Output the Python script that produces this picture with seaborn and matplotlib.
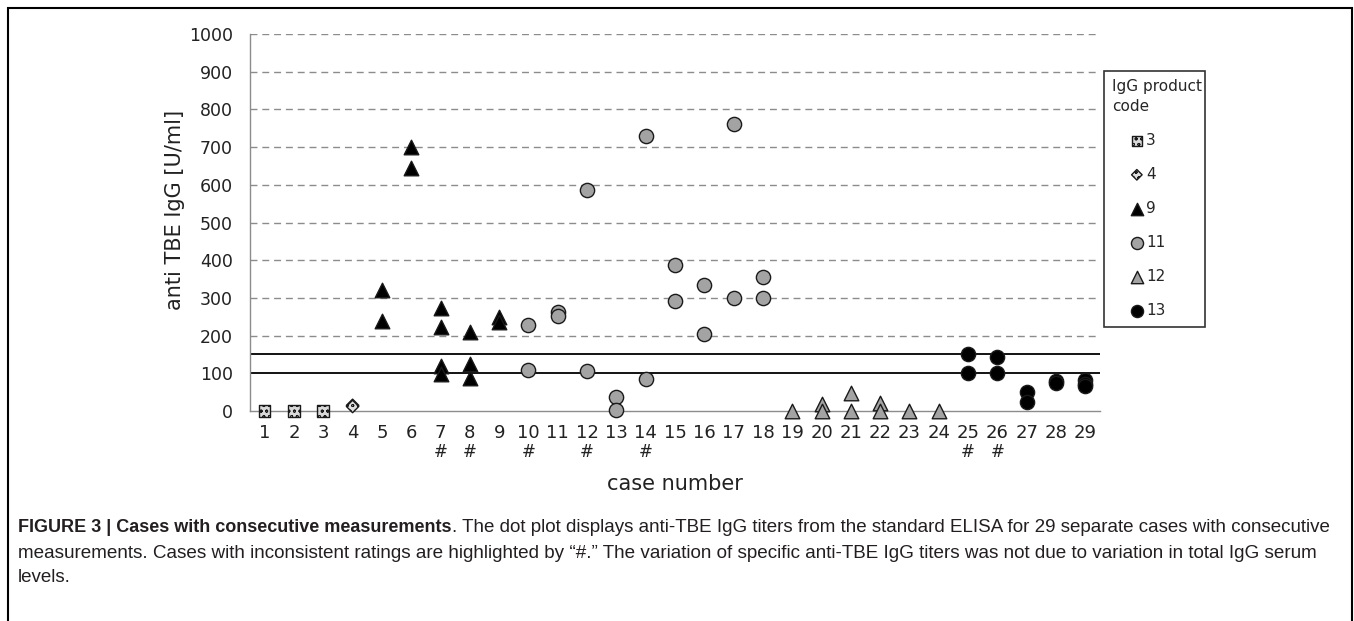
import pandas as pd
import numpy as np
import matplotlib
matplotlib.use("Agg")
import matplotlib.pyplot as plt
import seaborn as sns
from matplotlib.patches import Rectangle

case = [1, 2, 3, 4, 4,
        5, 5, 6, 6, 7, 7, 7, 7, 8, 8, 8, 9, 9,
        10, 10, 11, 11, 12, 12, 13, 13, 14, 14, 15, 15, 16, 16, 17, 17, 18, 18,
        19, 20, 20, 21, 21, 22, 22, 23, 24,
        25, 25, 26, 26, 27, 27, 28, 28, 29, 29, 29]
titer = [0, 0, 0, 15, 12,
         320, 240, 700, 645, 272, 222, 120, 98, 210, 125, 87, 250, 235,
         227, 110, 262, 252, 587, 106, 37, 2, 730, 84, 386, 292, 334, 203, 760, 300, 355, 300,
         0, 18, 0, 47, 0, 22, 0, 0, 0,
         150, 100, 142, 100, 50, 25, 80, 75, 82, 72, 65]
code = [3, 3, 3, 4, 4,
        9, 9, 9, 9, 9, 9, 9, 9, 9, 9, 9, 9, 9,
        11, 11, 11, 11, 11, 11, 11, 11, 11, 11, 11, 11, 11, 11, 11, 11, 11, 11,
        12, 12, 12, 12, 12, 12, 12, 12, 12,
        13, 13, 13, 13, 13, 13, 13, 13, 13, 13, 13]

product_codes = [3, 4, 9, 11, 12, 13]
flagged_cases = [7, 8, 10, 12, 14, 25, 26]
cutoffs = [100, 150]

df = pd.DataFrame({"case": case, "titer": titer, "code": code})

# marker style per product code
styles = {
    3: dict(marker="s", color="#d8d8d8", s=70, hatch="ooo"),
    4: dict(marker="D", color="#e0e0e0", s=40, hatch="ooo"),
    9: dict(marker="^", color="black", s=110),
    11: dict(marker="o", color="#a3a3a3", s=105),
    12: dict(marker="^", color="#a3a3a3", s=110),
    13: dict(marker="o", color="black", s=105),
}

sns.set_style("white")
plt.rcParams["font.family"] = ["DejaVu Sans"]
plt.rcParams["hatch.linewidth"] = 0.6

W, H = 1354, 621
fig = plt.figure(figsize=(W / 100, H / 100), dpi=100)
ax = fig.add_axes([250 / W, 1 - 411 / H, 850 / W, 377 / H])

# dashed grid and cutoff lines
for yv in range(200, 1001, 100):
    ax.axhline(yv, color="#8c8c8c", lw=1.0, ls=(0, (5, 3.5)), zorder=0)
for c in cutoffs:
    ax.axhline(c, color="black", lw=1.3, zorder=1)

for pc in product_codes:
    st = styles[pc]
    sns.scatterplot(data=df[df["code"] == pc], x="case", y="titer", ax=ax,
                    marker=st["marker"], color=st["color"], s=st["s"],
                    edgecolor="#1a1a1a", linewidth=1.0, hatch=st.get("hatch"),
                    label=str(pc), zorder=3, clip_on=False)

ax.set_xlim(0.5, 29.5)
ax.set_ylim(0, 1000)
ax.set_xticks(range(1, 30))
ax.set_xticks(np.arange(0.5, 30, 1), minor=True)
ax.set_yticks(range(0, 1001, 100))
ax.tick_params(axis="x", which="major", length=0, pad=9.5, labelsize=13, colors="#222222")
ax.tick_params(axis="x", which="minor", length=5, width=0.8, color="#8c8c8c", direction="out")
ax.tick_params(axis="y", length=9, width=0.8, color="#8c8c8c", direction="inout",
               labelsize=12.5, pad=8, colors="#222222")

sns.despine(ax=ax, top=True, right=True)
for sp in ["left", "bottom"]:
    ax.spines[sp].set_color("#8c8c8c")
    ax.spines[sp].set_linewidth(1.0)

# "#" marks for inconsistent ratings
for fc in flagged_cases:
    ax.text(fc, -0.108, "#", transform=ax.get_xaxis_transform(),
            ha="center", va="center", fontsize=12, color="#222222")

ax.set_xlabel("case number", fontsize=15, color="#222222")
ax.xaxis.set_label_coords(0.5, -0.194)
ax.xaxis.label.set_va("center")
ax.set_ylabel("anti TBE IgG [U/ml]", fontsize=15, color="#222222")
ax.yaxis.set_label_coords(-0.088, 0.533)
ax.yaxis.label.set_va("center")

leg = ax.legend(title="IgG product\ncode", loc="upper left",
                bbox_to_anchor=(1104 / W, (H - 335) / H, 101 / W, 264 / H),
                bbox_transform=fig.transFigure, mode="expand", borderaxespad=0,
                fancybox=False, frameon=True, edgecolor="black", fontsize=11,
                title_fontsize=11, alignment="left", handlelength=3.2,
                handletextpad=-1.0, labelspacing=1.25, markerscale=0.85,
                borderpad=0.55)
leg.get_frame().set_linewidth(1.2)
leg.get_title().set_linespacing(1.35)

# outer figure border (bottom edge runs off the image)
fig.add_artist(Rectangle((8 / W, -0.05), (1352 - 8) / W, 1.05 - 8 / H,
                         transform=fig.transFigure, fill=False, lw=1.5,
                         edgecolor="black", clip_on=False))

# caption
cap_font = ["Liberation Sans", "DejaVu Sans"]
cap_size = 13.5
renderer = fig.canvas.get_renderer()
bold = fig.text(18 / W, 1 - 527 / H, "FIGURE 3 | Cases with consecutive measurements",
                fontweight="bold", fontsize=13.0, family=cap_font, va="center", color="#231f20")
bb = bold.get_window_extent(renderer=renderer)
fig.text(bb.x1 / W, 1 - 527 / H,
         ". The dot plot displays anti-TBE IgG titers from the standard ELISA for 29 separate cases with consecutive",
         fontsize=cap_size, family=cap_font, va="center", color="#231f20")
fig.text(18 / W, 1 - 553 / H,
         "measurements. Cases with inconsistent ratings are highlighted by \u201c#.\u201d The variation of specific "
         "anti-TBE IgG titers was not due to variation in total IgG serum",
         fontsize=13.55, family=cap_font, va="center", color="#231f20")
fig.text(18 / W, 1 - 578 / H, "levels.",
         fontsize=cap_size, family=cap_font, va="center", color="#231f20")

fig.savefig("out.png", dpi=100)
